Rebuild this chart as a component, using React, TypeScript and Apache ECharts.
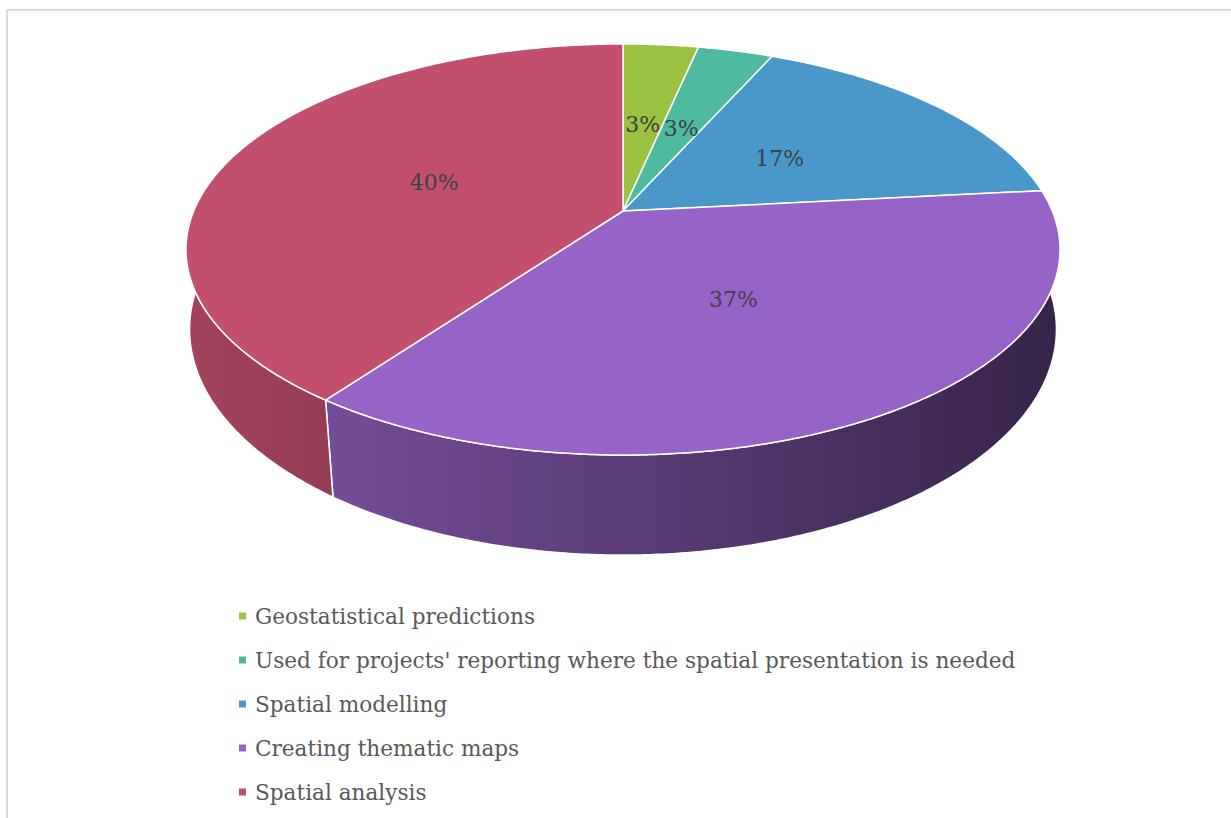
import React, { useEffect, useRef } from "react";
import * as echarts from "echarts";

const categories = [
  "Geostatistical predictions",
  "Used for projects' reporting where the spatial presentation is needed",
  "Spatial modelling",
  "Creating thematic maps",
  "Spatial analysis",
];
const values = [1, 1, 5, 11, 12];
const colors = ["#9BC241", "#4EBAA0", "#4A98C9", "#9664C7", "#C24F6E"];

// perspective projection of the top face and the bottom face
const CX = 623;
const TOP = { cy: 211, a: 429.3, b: 198.3, k: 0.1873 };
const BOT = { cy: 292, a: 427.5, b: 219.7, k: 0.165 };
const FONT = "DejaVu Serif";

function proj(deg: number, r: number, bottom: boolean): [number, number] {
  const p = bottom ? BOT : TOP;
  const t = (deg * Math.PI) / 180;
  const u = r * Math.sin(t);
  const v = -r * Math.cos(t);
  const w = 1 - p.k * v;
  return [CX + (p.a * u) / w, p.cy + (p.b * v) / w];
}

function shade(hex: string, f: number): string {
  const n = parseInt(hex.slice(1), 16);
  const r = Math.round(((n >> 16) & 255) * f);
  const g = Math.round(((n >> 8) & 255) * f);
  const b = Math.round((n & 255) * f);
  return `rgb(${r},${g},${b})`;
}

export default function App() {
  const ref = useRef<HTMLDivElement>(null);
  useEffect(() => {
    if (!ref.current) return;
    const chart = echarts.init(ref.current, undefined, { renderer: "svg" });
    const total = values.reduce((a, b) => a + b, 0);
    const angles: [number, number][] = [];
    let acc = 0;
    values.forEach((v) => {
      const a0 = (acc / total) * 360;
      acc += v;
      angles.push([a0, (acc / total) * 360]);
    });

    const wallItem = (params: any) => {
      const i = params.dataIndex;
      const [a0, a1] = angles[i];
      const s = Math.max(a0, 60);
      const e = Math.min(a1, 300);
      if (s >= e) return { type: "group", children: [] };
      const top: number[][] = [];
      const bot: number[][] = [];
      const steps = Math.max(2, Math.ceil((e - s) / 0.5));
      for (let k = 0; k <= steps; k++) {
        const d = s + ((e - s) * k) / steps;
        top.push(proj(d, 1, false));
        bot.push(proj(d, 1, true));
      }
      const points = top.concat(bot.reverse());
      return {
        type: "polygon",
        shape: { points },
        style: {
          fill: {
            type: "linear",
            x: CX - 440,
            y: 0,
            x2: CX + 440,
            y2: 0,
            global: true,
            colorStops: [
              { offset: 0, color: shade(colors[i], 0.85) },
              { offset: 1, color: shade(colors[i], 0.36) },
            ],
          },
          stroke: "#ffffff",
          lineWidth: 1.5,
          lineJoin: "round",
        },
      };
    };

    const topItem = (params: any) => {
      const i = params.dataIndex;
      const [a0, a1] = angles[i];
      const pts: number[][] = [proj(0, 0, false)];
      const steps = Math.max(2, Math.ceil((a1 - a0) / 0.5));
      for (let k = 0; k <= steps; k++) {
        pts.push(proj(a0 + ((a1 - a0) * k) / steps, 1, false));
      }
      return {
        type: "polygon",
        shape: { points: pts },
        style: { fill: colors[i], stroke: "#ffffff", lineWidth: 1.5, lineJoin: "round" },
      };
    };

    const labelItem = (params: any) => {
      const i = params.dataIndex;
      const [a0, a1] = angles[i];
      const [x, y] = proj((a0 + a1) / 2, 0.475, false);
      const pct = Math.round((values[i] / total) * 100);
      return {
        type: "text",
        x,
        y,
        style: {
          text: `${pct}%`,
          fill: "#404040",
          font: `22px "${FONT}"`,
          align: "center",
          verticalAlign: "middle",
        },
      };
    };

    const legendEls: any[] = [];
    categories.forEach((c, i) => {
      const yc = 616 + i * 44;
      legendEls.push({
        type: "rect",
        shape: { x: 239, y: yc - 3.5, width: 7, height: 7 },
        style: { fill: colors[i] },
      });
      legendEls.push({
        type: "text",
        x: 255,
        y: yc,
        style: {
          text: c,
          fill: "#595959",
          font: `21.6px "${FONT}"`,
          align: "left",
          verticalAlign: "middle",
        },
      });
    });

    const data = values.map((v, i) => ({ name: categories[i], value: [v] }));

    chart.setOption({
      animation: false,
      graphic: [
        {
          type: "rect",
          shape: { x: 7, y: 10, width: 1240, height: 830 },
          style: { fill: "none", stroke: "#d9d9d9", lineWidth: 2 },
          z: 0,
        },
        ...legendEls,
      ],
      series: [
        { type: "custom", coordinateSystem: "none", renderItem: wallItem, data, z: 1, silent: true },
        { type: "custom", coordinateSystem: "none", renderItem: topItem, data, z: 2, silent: true },
        { type: "custom", coordinateSystem: "none", renderItem: labelItem, data, z: 3, silent: true },
      ],
    });
    return () => chart.dispose();
  }, []);
  return (
    <div
      ref={ref}
      style={{ position: "fixed", left: 0, top: 0, width: 1231, height: 818, background: "#ffffff" }}
    />
  );
}
